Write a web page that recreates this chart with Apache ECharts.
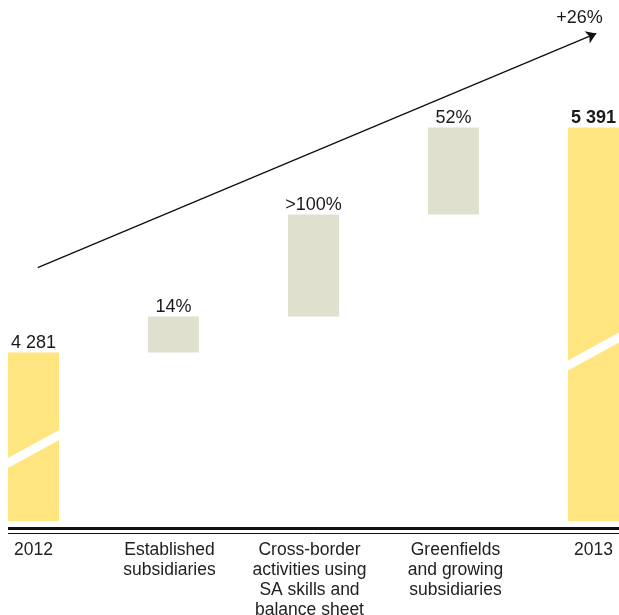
<!DOCTYPE html>
<html>
<head>
<meta charset="utf-8">
<script src="https://cdn.jsdelivr.net/npm/echarts@6/dist/echarts.min.js"></script>
<style>
  html, body { margin: 0; padding: 0; background: #ffffff; }
  #chart { width: 619px; height: 615px; }
</style>
</head>
<body>
<div id="chart"></div>
<script>
// Bridge from 2012 to 2013: opening total, three contributions, closing total
const categories = [
  '2012',
  'Established\nsubsidiaries',
  'Cross-border\nactivities using\nSA skills and\nbalance sheet',
  'Greenfields\nand growing\nsubsidiaries',
  '2013'
];
const openingTotal = 4281;
const closingTotal = 5391;
const contributions = [178, 503, 429];
const valueLabels = ['4 281', '14%', '>100%', '52%', '5 391'];

// Where the axis-break stripe crosses each total bar (value at bar centre)
const breakAt = [[0, 3805], [4, 4286]];

// Overall growth arrow, in (category position, value) space
const arrowFrom = [0.03, 4700];
const arrowTo = [4.02, 5855];
const growthLabel = '+26%';
const growthLabelAt = [3.9, 5930];

// Small horizontal nudges of the category captions (px, + = right)
const captionShift = [0, -4, -4, 2, 0];

// Waterfall: invisible offsets + visible pieces
const offsets = [0];
const pieces = [openingTotal];
let running = openingTotal;
contributions.forEach(function (v) {
  offsets.push(running);
  pieces.push(v);
  running += v;
});
offsets.push(0);
pieces.push(closingTotal);

const YELLOW = '#FFE580';
const GREIGE = '#E0E0CF';
const INK = '#1a1a1a';
const FONT = '"Liberation Sans", Arial, Helvetica, sans-serif';

const chart = echarts.init(document.getElementById('chart'), null, { renderer: 'canvas' });

chart.setOption({
  animation: false,
  backgroundColor: '#ffffff',
  textStyle: { fontFamily: FONT },
  grid: {
    left: -36.5, right: -44.5, top: 0, bottom: 94,
    containLabel: false,
    outerBoundsMode: 'none'
  },
  xAxis: [
    {
      type: 'category',
      data: categories.map(function (name, i) {
        const s = captionShift[i];
        return {
          value: name,
          textStyle: {
            padding: s < 0 ? [0, -2 * s, 0, 0] : [0, 0, 0, 2 * s]
          }
        };
      }),
      axisLine: { show: false },
      axisTick: { show: false },
      splitLine: { show: false },
      axisLabel: {
        interval: 0,
        margin: 19,
        fontSize: 17.5,
        lineHeight: 20,
        color: '#222222',
        fontFamily: FONT,
        hideOverlap: false
      }
    },
    {
      type: 'value',
      min: -0.5,
      max: 4.5,
      show: false
    }
  ],
  yAxis: {
    type: 'value',
    min: 3450,
    max: 6020,
    show: false
  },
  graphic: [
    { type: 'line', silent: true, shape: { x1: 8, y1: 528.5, x2: 619, y2: 528.5 }, style: { stroke: '#111111', lineWidth: 3 } },
    { type: 'line', silent: true, shape: { x1: 8, y1: 533.5, x2: 619, y2: 533.5 }, style: { stroke: '#111111', lineWidth: 1 } }
  ],
  series: [
    {
      type: 'bar',
      stack: 'bridge',
      barWidth: 51,
      silent: true,
      itemStyle: { color: 'transparent' },
      data: offsets
    },
    {
      type: 'bar',
      stack: 'bridge',
      barWidth: 51,
      silent: true,
      data: pieces.map(function (v, i) {
        const isTotal = i === 0 || i === pieces.length - 1;
        return {
          value: v,
          itemStyle: { color: isTotal ? YELLOW : GREIGE },
          label: {
            show: true,
            position: 'top',
            distance: 0.5,
            formatter: valueLabels[i],
            fontSize: 18,
            fontFamily: FONT,
            color: INK,
            fontWeight: i === pieces.length - 1 ? 'bold' : 'normal'
          }
        };
      })
    },
    {
      type: 'custom',
      silent: true,
      z: 5,
      data: breakAt,
      encode: { x: 0, y: 1 },
      renderItem: function (params, api) {
        const c = api.coord([api.value(0), api.value(1)]);
        const half = 26;
        const rise = 14.25;
        const t = 5;
        return {
          type: 'polygon',
          shape: {
            points: [
              [c[0] - half, c[1] + rise - t],
              [c[0] + half, c[1] - rise - t],
              [c[0] + half, c[1] - rise + t],
              [c[0] - half, c[1] + rise + t]
            ]
          },
          style: { fill: '#ffffff' }
        };
      }
    },
    {
      type: 'lines',
      coordinateSystem: 'cartesian2d',
      xAxisIndex: 1,
      yAxisIndex: 0,
      silent: true,
      symbol: ['none', 'arrow'],
      symbolSize: 10,
      lineStyle: { color: '#111111', width: 1.4, opacity: 1 },
      data: [{ coords: [arrowFrom, arrowTo] }]
    },
    {
      type: 'scatter',
      xAxisIndex: 1,
      yAxisIndex: 0,
      silent: true,
      symbolSize: 1,
      itemStyle: { color: 'transparent', opacity: 1 },
      data: [growthLabelAt],
      label: {
        show: true,
        position: 'inside',
        formatter: growthLabel,
        fontSize: 18,
        fontFamily: FONT,
        color: INK,
        opacity: 1
      }
    }
  ]
});
</script>
</body>
</html>
